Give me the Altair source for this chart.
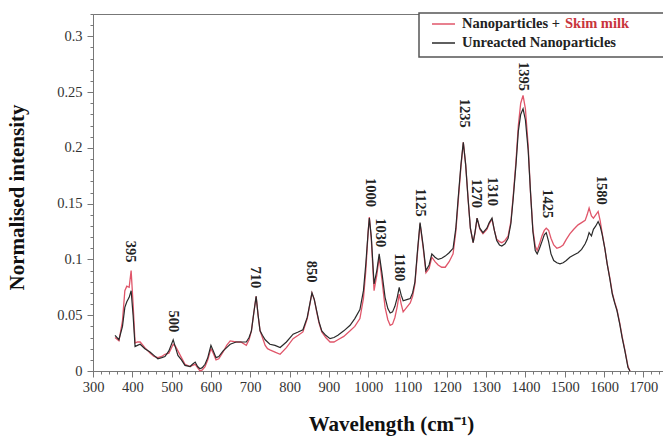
import altair as alt
import pandas as pd

# ---------------- data ----------------
wavenumber = [356, 366, 375, 381, 386, 392, 397, 402, 407, 413, 420, 432, 445, 455, 465, 475, 483, 493,
              504, 510, 516, 525, 534, 547, 553, 560, 566, 572, 578, 585, 592, 600, 606, 613, 620, 631,
              640, 649, 664, 676, 690, 697, 703, 709, 715, 720, 725, 731, 738, 744, 750, 763, 776, 792,
              809, 822, 834, 845, 857, 863, 869, 875, 882, 892, 903, 913, 923, 938, 954, 966, 979, 988,
              994, 1000, 1003, 1008, 1015, 1022, 1028, 1035, 1043, 1050, 1056, 1062, 1068, 1074, 1079,
              1084, 1089, 1098, 1107, 1113, 1119, 1126, 1132, 1140, 1147, 1155, 1162, 1170, 1178, 1187,
              1196, 1206, 1216, 1223, 1229, 1236, 1242, 1248, 1254, 1260, 1267, 1272, 1277, 1284, 1292,
              1297, 1302, 1308, 1315, 1321, 1327, 1334, 1340, 1348, 1356, 1363, 1369, 1376, 1382, 1388,
              1394, 1400, 1407, 1413, 1419, 1425, 1430, 1436, 1442, 1448, 1453, 1459, 1465, 1472, 1480,
              1488, 1496, 1504, 1513, 1523, 1534, 1543, 1552, 1557, 1562, 1568, 1573, 1579, 1585, 1590,
              1595, 1602, 1608, 1615, 1621, 1627, 1633, 1640, 1646, 1653, 1661, 1666]

unreacted = [.032, .028, .040, .057, .062, .066, .072, .050, .022, .023, .024, .020, .017, .014, .011, .012, .013, .018,
             .028, .021, .014, .010, .005, .004, .006, .008, .004, .002, .003, .006, .012, .023, .018, .012, .013, .018,
             .021, .024, .026, .026, .026, .030, .036, .052, .067, .050, .036, .032, .028, .026, .024, .023, .021, .026,
             .033, .035, .037, .048, .070, .064, .054, .044, .036, .032, .029, .030, .032, .036, .041, .047, .055, .072,
             .096, .125, .137, .120, .078, .090, .105, .088, .066, .056, .052, .053, .058, .066, .075,
             .068, .063, .064, .065, .070, .080, .110, .133, .112, .090, .095, .105, .102, .100, .101,
             .103, .106, .110, .128, .155, .185, .205, .185, .155, .128, .115, .125, .137, .128, .124,
             .126, .128, .133, .137, .126, .117, .113, .112, .114, .119, .132, .155, .185, .215, .230,
             .235, .225, .198, .160, .125, .108, .105, .110, .116, .122, .124, .116, .105, .099, .097,
             .096, .097, .099, .102, .104, .106, .109, .114, .118, .124, .121, .127, .130, .134, .130,
             .123, .110, .096, .082, .069, .061, .054, .042, .030, .018, .003, .000]

skim = [.030, .027, .045, .072, .076, .075, .090, .060, .025, .026, .026, .021, .016, .013, .012, .013, .015, .016,
        .024, .022, .018, .012, .006, .004, .005, .006, .003, .000, .001, .004, .010, .020, .016, .010, .011, .017,
        .023, .027, .026, .026, .023, .028, .036, .052, .067, .050, .036, .030, .023, .020, .019, .017, .015, .021,
        .029, .032, .035, .047, .070, .064, .053, .043, .035, .030, .026, .026, .028, .031, .036, .040, .047, .065,
        .090, .125, .138, .118, .072, .086, .102, .082, .057, .046, .041, .042, .048, .058, .069,
        .060, .053, .057, .061, .067, .078, .108, .132, .110, .088, .092, .102, .098, .095, .093,
        .093, .098, .105, .125, .152, .183, .205, .185, .155, .128, .115, .124, .137, .127, .123,
        .125, .127, .132, .136, .126, .118, .116, .115, .117, .121, .134, .157, .188, .220, .240,
        .247, .235, .202, .160, .127, .112, .108, .114, .121, .126, .128, .126, .119, .113, .110,
        .111, .113, .118, .123, .127, .131, .133, .135, .140, .146, .139, .137, .140, .143, .135,
        .124, .110, .096, .083, .070, .062, .055, .043, .031, .019, .004, .000]

series_names = ["Nanoparticles + Skim milk", "Unreacted Nanoparticles"]

peak_text = ["395", "500", "710", "850", "1000", "1030", "1180", "1125",
             "1235", "1270", "1310", "1395", "1425", "1580"]
peak_x = [394, 503, 712, 855, 1005, 1030, 1079, 1132, 1244, 1275, 1315, 1393, 1455, 1593]
peak_y = [0.107, 0.0445, 0.084, 0.089, 0.160, 0.124, 0.093, 0.151, 0.231, 0.159, 0.161, 0.264, 0.150, 0.162]

legend_first = ["Nanoparticles + "]
legend_skim = ["Skim milk"]
legend_second = ["Unreacted Nanoparticles"]

x_major = list(range(300, 1701, 100))
y_major = [0, 0.05, 0.1, 0.15, 0.2, 0.25, 0.3]
x_minor = [v for v in range(300, 1741, 20) if v % 100 != 0]
y_minor = [round(i * 0.01, 2) for i in range(0, 33) if i % 5 != 0]

# ---------------- styling ----------------
FONT = "Liberation Serif"
RED = "#e0566a"
SKIM_RED = "#c8343c"
BLACK = "#2a2a2a"
AXIS_GRAY = "#777"

df_skim = pd.DataFrame({"w": wavenumber, "v": skim})
df_unr = pd.DataFrame({"w": wavenumber, "v": unreacted})
df_peaks = pd.DataFrame({"label": peak_text, "w": peak_x, "v": peak_y})

x_scale = alt.Scale(domain=[300, 1750], nice=False, zero=False)
y_scale = alt.Scale(domain=[0, 0.32], nice=False)

x_axis = alt.Axis(
    values=x_major, format="d", tickSize=6,
    grid=False, domainColor=AXIS_GRAY, tickColor=AXIS_GRAY,
    labelFont=FONT, labelFontSize=14.5, labelColor="#333", labelPadding=3,
    title="Wavelength (cm⁻¹)", titleFont=FONT, titleFontSize=21, titleFontWeight="bold",
    titleColor="#111", titlePadding=20, titleX=298, titleAnchor="middle",
    labelFlush=False, labelOverlap=False, orient="bottom",
)
y_axis = alt.Axis(
    values=y_major, format="~g", tickSize=6,
    grid=False, domainColor=AXIS_GRAY, tickColor=AXIS_GRAY,
    labelFont=FONT, labelFontSize=14.5, labelColor="#333", labelPadding=5,
    title="Normalised intensity", titleFont=FONT, titleFontSize=21, titleFontWeight="bold",
    titleColor="#111", titlePadding=29, titleY=183, titleAnchor="middle",
    labelOverlap=False, labelFlush=False, orient="left",
)
x_minor_axis = alt.Axis(values=x_minor, labels=False, tickSize=3, domain=False, grid=False,
                        title=None, tickColor=AXIS_GRAY, orient="bottom")
y_minor_axis = alt.Axis(values=y_minor, labels=False, tickSize=3, domain=False, grid=False,
                        title=None, tickColor=AXIS_GRAY, orient="left")

red_line = alt.Chart(df_skim).mark_line(color=RED, strokeWidth=1.3).encode(
    x=alt.X("w:Q", scale=x_scale, axis=x_axis),
    y=alt.Y("v:Q", scale=y_scale, axis=y_axis),
)
black_line = alt.Chart(df_unr).mark_line(color=BLACK, strokeWidth=1.2).encode(
    x=alt.X("w:Q", scale=x_scale, axis=x_minor_axis),
    y=alt.Y("v:Q", scale=y_scale, axis=y_minor_axis),
)

peaks = alt.Chart(df_peaks).mark_text(
    angle=90, font=FONT, fontSize=14.5, fontWeight="bold", color="#222",
    align="center", baseline="middle",
).encode(
    x=alt.X("w:Q", scale=x_scale, axis=None),
    y=alt.Y("v:Q", scale=y_scale, axis=None),
    text="label:N",
)

# ---------------- legend (custom, to get the two-coloured label) ----------------
leg_box = alt.Chart(pd.DataFrame({"name": ["legend"]})).mark_rect(
    fill="white", stroke="#555", strokeWidth=1.5
).encode(x=alt.value(326), x2=alt.value(572), y=alt.value(-1), y2=alt.value(43))

leg_red_line = alt.Chart(pd.DataFrame({"name": [series_names[0]]})).mark_rule(
    color=RED, strokeWidth=1.5
).encode(x=alt.value(339), x2=alt.value(362), y=alt.value(10))
leg_black_line = alt.Chart(pd.DataFrame({"name": [series_names[1]]})).mark_rule(
    color=BLACK, strokeWidth=1.5
).encode(x=alt.value(339), x2=alt.value(362), y=alt.value(29))

leg_txt_style = dict(font=FONT, fontSize=14.5, fontWeight="bold", align="left", baseline="middle")
leg_t1 = alt.Chart(pd.DataFrame({"t": legend_first})).mark_text(color="#222", **leg_txt_style).encode(
    x=alt.value(369), y=alt.value(10), text="t:N")
leg_t2 = alt.Chart(pd.DataFrame({"t": legend_skim})).mark_text(color=SKIM_RED, **leg_txt_style).encode(
    x=alt.value(472), y=alt.value(10), text="t:N")
leg_t3 = alt.Chart(pd.DataFrame({"t": legend_second})).mark_text(color="#222", **leg_txt_style).encode(
    x=alt.value(369), y=alt.value(29), text="t:N")

chart = alt.layer(
    red_line, black_line, peaks, leg_box, leg_red_line, leg_black_line, leg_t1, leg_t2, leg_t3
).resolve_axis(
    x="independent", y="independent"
).properties(
    width=570, height=357,
    autosize=alt.AutoSizeParams(type="none"),
    padding={"left": 93, "top": 14, "right": 0, "bottom": 66},
    background="white",
).configure_view(stroke=AXIS_GRAY, strokeWidth=1)

chart.save("out.html", embed_options={"renderer": "svg", "actions": False})
